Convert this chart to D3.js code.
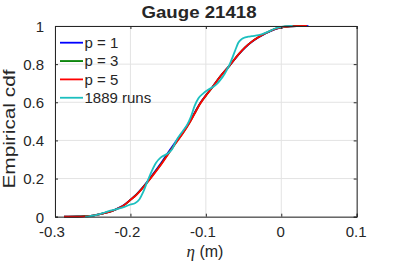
<!DOCTYPE html>
<html>
<head>
<meta charset="utf-8">
<script src="https://cdn.jsdelivr.net/npm/d3@7"></script>
<style>
  html, body { margin: 0; padding: 0; background: #fff; }
  svg { display: block; }
  text { font-family: "Liberation Sans", Arial, Helvetica, sans-serif; fill: #262626; }
</style>
</head>
<body>
<svg id="chart" width="395" height="263"></svg>
<script>
// ---- data ----
const titleText = "Gauge 21418";
const xTickValues = [-0.3, -0.2, -0.1, 0, 0.1];
const xTickLabels = ["-0.3", "-0.2", "-0.1", "0", "0.1"];
const yTickValues = [0, 0.2, 0.4, 0.6, 0.8, 1];
const yTickLabels = ["0", "0.2", "0.4", "0.6", "0.8", "1"];

const etaFit = [-0.288, -0.27, -0.26, -0.25, -0.24, -0.232, -0.224, -0.216, -0.208, -0.2,
  -0.192, -0.185, -0.178, -0.17, -0.16, -0.15, -0.14, -0.13, -0.122, -0.115,
  -0.108, -0.1, -0.092, -0.081, -0.068, -0.057, -0.048, -0.039, -0.03, -0.021,
  -0.008, 0.005, 0.02, 0.034, 0.036];
const cdfP1 = [0, 0.001, 0.003, 0.006, 0.013, 0.021, 0.031, 0.045, 0.063, 0.089,
  0.117, 0.148, 0.182, 0.224, 0.277, 0.336, 0.393, 0.447, 0.495, 0.544,
  0.593, 0.637, 0.676, 0.735, 0.795, 0.849, 0.887, 0.917, 0.941, 0.961,
  0.984, 0.995, 0.999, 0.9995, 1];
const cdfP3 = [0, 0.001, 0.003, 0.006, 0.013, 0.021, 0.031, 0.044, 0.062, 0.088,
  0.116, 0.146, 0.179, 0.22, 0.272, 0.33, 0.387, 0.442, 0.491, 0.541,
  0.591, 0.635, 0.675, 0.735, 0.795, 0.85, 0.888, 0.918, 0.942, 0.962,
  0.985, 0.996, 0.9995, 1, null];
const cdfP5 = [0, 0.0005, 0.002, 0.006, 0.013, 0.021, 0.031, 0.044, 0.062, 0.088,
  0.115, 0.145, 0.178, 0.218, 0.27, 0.328, 0.385, 0.44, 0.49, 0.54,
  0.59, 0.635, 0.675, 0.735, 0.795, 0.85, 0.888, 0.918, 0.942, 0.962,
  0.985, 0.996, 0.9995, 1, null];

const etaRuns = [-0.26, -0.255, -0.25, -0.242, -0.234, -0.225, -0.216, -0.208, -0.2, -0.194,
  -0.188, -0.183, -0.178, -0.172, -0.166, -0.16, -0.155, -0.15, -0.145, -0.139,
  -0.13, -0.125, -0.12, -0.115, -0.11, -0.103, -0.096, -0.09, -0.085, -0.081,
  -0.075, -0.068, -0.064, -0.061, -0.057, -0.053, -0.05, -0.044, -0.039, -0.03,
  -0.021, -0.014, -0.008, 0, 0.008, 0.015];
const cdfRuns = [0, 0.002, 0.005, 0.012, 0.022, 0.033, 0.042, 0.052, 0.064, 0.071,
  0.092, 0.13, 0.18, 0.237, 0.283, 0.31, 0.322, 0.333, 0.352, 0.4,
  0.452, 0.48, 0.522, 0.58, 0.62, 0.648, 0.668, 0.682, 0.698, 0.716,
  0.75, 0.803, 0.842, 0.873, 0.912, 0.93, 0.937, 0.944, 0.947, 0.952,
  0.964, 0.976, 0.987, 0.995, 0.999, 1];

const seriesNames = ["p = 1", "p = 3", "p = 5", "1889 runs"];
const seriesColors = ["#0000ff", "#008000", "#ff0000", "#1cbfbf"];

// ---- layout ----
const L = 55, R = 356.7, T = 26, B = 216.7;
const svg = d3.select("#chart");
const x = d3.scaleLinear().domain([-0.3, 0.1]).range([L, R]);
const y = d3.scaleLinear().domain([0, 1]).range([B, T]);

// grid
const grid = svg.append("g");
grid.selectAll("line.gx").data(xTickValues).enter().append("line")
  .attr("x1", d => x(d)).attr("x2", d => x(d)).attr("y1", T).attr("y2", B)
  .attr("stroke", "#e3e3e3").attr("stroke-width", 1);
grid.selectAll("line.gy").data(yTickValues).enter().append("line")
  .attr("x1", L).attr("x2", R).attr("y1", d => y(d)).attr("y2", d => y(d))
  .attr("stroke", "#e3e3e3").attr("stroke-width", 1);

// series
const series = [
  etaFit.map((e, i) => [e, cdfP1[i]]),
  etaFit.map((e, i) => [e, cdfP3[i]]),
  etaFit.map((e, i) => [e, cdfP5[i]]),
  etaRuns.map((e, i) => [e, cdfRuns[i]])
];
const line = d3.line()
  .defined(d => d[1] !== null)
  .x(d => x(d[0])).y(d => y(d[1]))
  .curve(d3.curveMonotoneX);
svg.append("g").selectAll("path").data(series).enter().append("path")
  .attr("d", line).attr("fill", "none")
  .attr("stroke", (d, i) => seriesColors[i])
  .attr("stroke-width", 1.8);

// axes (box + inward ticks)
const axisColor = "#262626";
const xb = d3.axisBottom(x).tickValues(xTickValues).tickSize(-3).tickPadding(10)
  .tickFormat((d, i) => xTickLabels[i]);
const xt = d3.axisTop(x).tickValues(xTickValues).tickSize(-3).tickFormat("");
const yl = d3.axisLeft(y).tickValues(yTickValues).tickSize(-3).tickPadding(11)
  .tickFormat((d, i) => yTickLabels[i]);
const yr = d3.axisRight(y).tickValues(yTickValues).tickSize(-3).tickFormat("");

function style(g) {
  g.selectAll("path.domain").attr("stroke", axisColor).attr("stroke-width", 1);
  g.selectAll(".tick line").attr("stroke", axisColor).attr("stroke-width", 1);
  g.selectAll(".tick text").attr("fill", axisColor)
    .style("font-family", '"Liberation Sans", Arial, sans-serif').style("font-size", "15px");
}
const gxb = svg.append("g").attr("transform", `translate(0,${B})`).call(xb).call(style);
gxb.selectAll(".tick text").attr("dx", (d, i) => xTickLabels[i].startsWith("-") ? "-3.5" : "-1")
  .attr("dy", "0.71em");
svg.append("g").attr("transform", `translate(0,${T})`).call(xt).call(style);
const gyl = svg.append("g").attr("transform", `translate(${L},0)`).call(yl).call(style);
gyl.selectAll(".tick text").attr("dy", "0.36em");
svg.append("g").attr("transform", `translate(${R},0)`).call(yr).call(style);

// legend (no box)
const leg = svg.append("g");
const rows = leg.selectAll("g").data(seriesNames).enter().append("g")
  .attr("transform", (d, i) => `translate(0,${42.7 + i * 18.35})`);
rows.append("line").attr("x1", 60).attr("x2", 83).attr("y1", 0).attr("y2", 0)
  .attr("stroke", (d, i) => seriesColors[i]).attr("stroke-width", 1.8);
rows.append("text").attr("x", 84.5).attr("y", 0).attr("dy", "0.36em")
  .style("font-size", "15px").text(d => d);

// title
svg.append("text").attr("x", 199).attr("y", 17.5).attr("text-anchor", "middle")
  .style("font-size", "17px").style("font-weight", "bold")
  .attr("textLength", 115).attr("lengthAdjust", "spacingAndGlyphs")
  .text(titleText);

// y label
svg.append("text").attr("transform", "translate(15,129) rotate(-90)")
  .attr("text-anchor", "middle").style("font-size", "16px")
  .attr("textLength", 119).attr("lengthAdjust", "spacingAndGlyphs")
  .text("Empirical cdf");

// x label
const xl = svg.append("text").attr("x", 205).attr("y", 257).attr("text-anchor", "middle")
  .style("font-size", "16px");
xl.append("tspan").style("font-family", '"Liberation Serif", "DejaVu Serif", serif')
  .style("font-style", "italic").style("font-size", "17px").text("η");
xl.append("tspan").text(" (m)");
</script>
</body>
</html>
